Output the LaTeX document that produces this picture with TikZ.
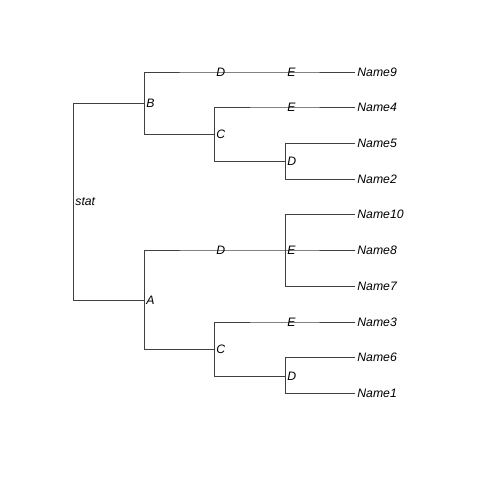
\documentclass[tikz,border=0pt]{standalone}
\usepackage{fontspec}
\setmainfont{Liberation Sans}
\usetikzlibrary{positioning}

\begin{document}
\begin{tikzpicture}[x=0.025cm, y=-0.025cm,
        branch/.style={draw=black!75, line width=0.6pt},
        lbl/.style={anchor=west, inner sep=1.5pt, font=\fontsize{8.7}{10}\selectfont\itshape}]
        \useasboundingbox (0,0) rectangle (480,480);

        % Junctions of the tree
        \coordinate (stat) at (73,202);
        \coordinate (b) at (144,103);
        \coordinate (a) at (144,300);
        \coordinate (bd) at (214,72);
        \coordinate (bde) at (285,72);
        \coordinate (bc) at (214,134);
        \coordinate (bce) at (285,107);
        \coordinate (bcd) at (285,161.5);
        \coordinate (ad) at (214,250);
        \coordinate (ade) at (285,250);
        \coordinate (ac) at (214,349);
        \coordinate (ace) at (285,322);
        \coordinate (acd) at (285,376);

        % Leaves
        \node[lbl] (name9) at (355,72) {Name9};
        \node[lbl] (name4) at (355,107) {Name4};
        \node[lbl] (name5) at (355,143) {Name5};
        \node[lbl] (name2) at (355,179) {Name2};
        \node[lbl] (name10) at (355,214) {Name10};
        \node[lbl] (name8) at (355,250) {Name8};
        \node[lbl] (name7) at (355,286) {Name7};
        \node[lbl] (name3) at (355,322) {Name3};
        \node[lbl] (name6) at (355,357) {Name6};
        \node[lbl] (name1) at (355,393) {Name1};

        % Draw branches
        \draw[branch] (stat) |- (b);
        \draw[branch] (stat) |- (a);
        \draw[branch] (b) |- (bd) -- (bde) -- (name9.west);
        \draw[branch] (b) |- (bc);
        \draw[branch] (bc) |- (bce) -- (name4.west);
        \draw[branch] (bc) |- (bcd);
        \draw[branch] (bcd) |- (name5.west);
        \draw[branch] (bcd) |- (name2.west);
        \draw[branch] (a) |- (ad) -- (ade) -- (name8.west);
        \draw[branch] (ade) |- (name10.west);
        \draw[branch] (ade) |- (name7.west);
        \draw[branch] (a) |- (ac);
        \draw[branch] (ac) |- (ace) -- (name3.west);
        \draw[branch] (ac) |- (acd);
        \draw[branch] (acd) |- (name6.west);
        \draw[branch] (acd) |- (name1.west);

        % Split labels
        \node[lbl] (lstat) at (stat) {stat};
        \node[lbl] (lb) at (b) {B};
        \node[lbl] (la) at (a) {A};
        \node[lbl] (lbd) at (bd) {D};
        \node[lbl] (lbde) at (bde) {E};
        \node[lbl] (lbc) at (bc) {C};
        \node[lbl] (lbce) at (bce) {E};
        \node[lbl] (lbcd) at (bcd) {D};
        \node[lbl] (lad) at (ad) {D};
        \node[lbl] (lade) at (ade) {E};
        \node[lbl] (lac) at (ac) {C};
        \node[lbl] (lace) at (ace) {E};
        \node[lbl] (lacd) at (acd) {D};
    \end{tikzpicture}
\end{document}
